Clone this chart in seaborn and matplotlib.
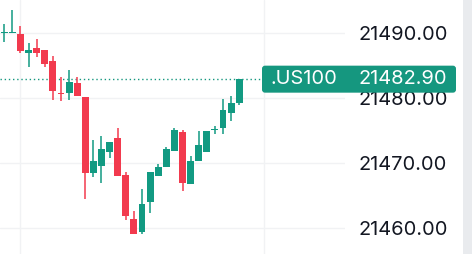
import matplotlib
matplotlib.use("Agg")
import matplotlib.pyplot as plt
import matplotlib.transforms as mtransforms
from matplotlib.patches import FancyBboxPatch, Rectangle
import numpy as np
import pandas as pd
import seaborn as sns

# ---- data ----
opens = [21490.05, 21490.0, 21489.85, 21486.97, 21487.7, 21487.4, 21485.7, 21480.7,
         21480.8, 21482.3, 21480.2, 21468.5, 21469.6, 21471.7, 21473.8, 21468.2,
         21461.4, 21459.4, 21463.95, 21468.05, 21469.4, 21471.9, 21474.8, 21466.8,
         21470.35, 21471.7, 21475.1, 21475.4, 21477.7, 21479.3]
highs = [21491.4, 21493.5, 21491.1, 21488.5, 21489.1, 21487.4, 21486.5, 21483.2,
         21484.3, 21483.2, 21480.2, 21473.5, 21474.2, 21473.2, 21475.4, 21468.6,
         21462.6, 21466.0, 21468.6, 21469.8, 21472.5, 21475.4, 21475.1, 21471.1,
         21474.9, 21474.9, 21475.7, 21479.85, 21480.3, 21483.0]
lows = [21488.6, 21490.0, 21487.0, 21484.7, 21486.3, 21484.7, 21479.7, 21479.6,
        21479.7, 21480.35, 21464.4, 21467.9, 21467.0, 21470.7, 21468.0, 21461.3,
        21459.1, 21459.1, 21462.3, 21468.05, 21469.4, 21471.9, 21465.7, 21466.7,
        21470.35, 21471.7, 21474.5, 21474.5, 21476.5, 21479.0]
closes = [21490.15, 21490.05, 21487.3, 21487.4, 21487.0, 21485.3, 21481.1, 21480.6,
          21482.5, 21480.35, 21468.5, 21470.3, 21472.2, 21473.2, 21468.05, 21461.9,
          21459.1, 21463.7, 21468.6, 21469.4, 21472.2, 21475.1, 21467.0, 21470.3,
          21472.8, 21474.9, 21475.3, 21478.15, 21479.2, 21482.9]
ytick_values = [21460, 21470, 21480, 21490]
ytick_labels = ["21460.00", "21470.00", "21480.00", "21490.00"]
symbol = ".US100"
last_label = "21482.90"

df = pd.DataFrame({"open": opens, "high": highs, "low": lows, "close": closes})
df["idx"] = np.arange(len(df))
df["up"] = df["close"] >= df["open"]

GREEN = "#129a82"
RED = "#f23a4e"
TEAL = "#15977f"
GRID = "#f1f2f4"
TXT = "#131722"
FS = 14.4

sns.set_style("white")
plt.rcParams["font.family"] = ["Inter", "DejaVu Sans"]

W, H = 472, 254
fig = plt.figure(figsize=(W / 100, H / 100), dpi=100)
fig.patch.set_facecolor("white")
ax = fig.add_axes([0, 0, 345 / W, 1])

colors = [GREEN if u else RED for u in df["up"]]
body_bottom = np.minimum(df["open"], df["close"])
body_h = np.maximum(np.abs(df["close"] - df["open"]), 0.15)

ax.vlines(df["idx"], df["low"], df["high"], colors=colors, linewidth=1.1, zorder=3)
ax.bar(df["idx"], body_h, bottom=body_bottom, width=0.86, color=colors,
       linewidth=0, zorder=4)

ax.set_xlim(-0.53, 42.06)
ax.set_ylim(21456.0, 21495.08)

ax.set_xticks([2, 32])
ax.set_xticklabels([])
ax.yaxis.tick_right()
ax.set_yticks(ytick_values)
ax.set_yticklabels(ytick_labels)
ax.tick_params(axis="y", length=0, pad=10, labelsize=FS, labelcolor=TXT)
ax.tick_params(axis="x", length=0)
ax.grid(True, color=GRID, linewidth=1.0, zorder=0)
ax.set_axisbelow(True)
for s in ax.spines.values():
    s.set_visible(False)

# last price dotted line
last = df["close"].iloc[-1]
ax.axhline(last, color=TEAL, linestyle=(0, (1, 2)), linewidth=1.0, zorder=2)

# right gray strip
fig.add_artist(Rectangle((463, 0), 9, H, transform=mtransforms.IdentityTransform(),
                         facecolor="#e9ebee", edgecolor="none", zorder=1))

# price label box
fig.canvas.draw()
y_disp = ax.transData.transform((0, last))[1]
box = FancyBboxPatch((262, y_disp - 13.5), 194, 27,
                     boxstyle="round,pad=0,rounding_size=3",
                     transform=mtransforms.IdentityTransform(),
                     facecolor=TEAL, edgecolor="none", zorder=10)
fig.add_artist(box)
fig.text(270 / W, y_disp / H, symbol, color="white", fontsize=FS,
         ha="left", va="center", zorder=11)
fig.text(447 / W, y_disp / H, last_label, color="white", fontsize=FS,
         ha="right", va="center", zorder=11)

fig.savefig("out.png", dpi=100)
